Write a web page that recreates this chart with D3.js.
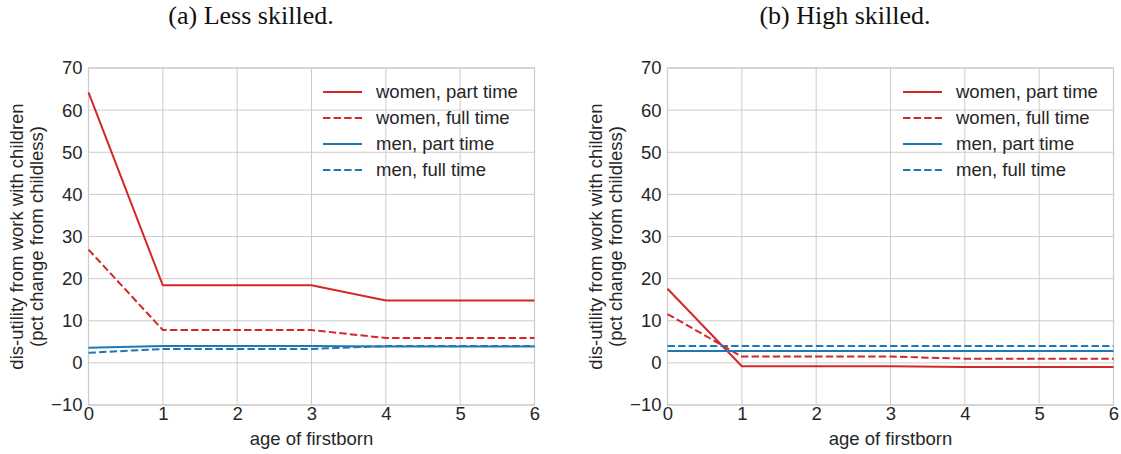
<!DOCTYPE html>
<html><head><meta charset="utf-8">
<script src="https://cdn.jsdelivr.net/npm/d3@7"></script>
<style>body{margin:0;background:#fff}svg{display:block}</style>
</head><body>
<script>
const ages = [0,1,2,3,4,5,6];
const yTicks = [-10,0,10,20,30,40,50,60,70];
const seriesNames = ["women, part time","women, full time","men, part time","men, full time"];
const seriesColors = ["#d62728","#d62728","#1f77b4","#1f77b4"];
const seriesDashed = [false,true,false,true];
const titles = ["(a) Less skilled.","(b) High skilled."];
// Less skilled
const lessWomenPT = [64.2,18.4,18.4,18.4,14.8,14.8,14.8];
const lessWomenFT = [26.9,7.8,7.8,7.8,5.9,5.9,5.9];
const lessMenPT   = [3.6,4.0,4.0,4.0,3.9,3.9,3.9];
const lessMenFT   = [2.4,3.3,3.3,3.3,4.0,4.0,4.0];
// High skilled
const highWomenPT = [17.6,-0.8,-0.8,-0.8,-1.0,-1.0,-1.0];
const highWomenFT = [11.6,1.5,1.5,1.5,1.0,1.0,1.0];
const highMenPT   = [2.8,2.8,2.8,2.8,2.8,2.8,2.8];
const highMenFT   = [4.0,4.0,4.0,4.0,4.0,4.0,4.0];

const panels = [
  {title: titles[0], left: 88.5, titleX: 251, series:[lessWomenPT,lessWomenFT,lessMenPT,lessMenFT], legendX: 323},
  {title: titles[1], left: 667.5, titleX: 845, series:[highWomenPT,highWomenFT,highMenPT,highMenFT], legendX: 903}
];
const W = 1121, H = 454;
const plotTop = 68, plotBottom = 405, pw = 446;
const txt = "#262626", grid = "#cccccc";
const sans = "'Liberation Sans', Arial, sans-serif";
const fs = 18.5;

const svg = d3.select("body").append("svg").attr("width", W).attr("height", H);

panels.forEach(p => {
  const x = d3.scaleLinear().domain([0,6]).range([p.left, p.left+pw]);
  const y = d3.scaleLinear().domain([-10,70]).range([plotBottom, plotTop]);
  const g = svg.append("g");

  g.append("text").attr("x", p.titleX).attr("y", 24)
    .attr("text-anchor","middle").attr("font-family","'Liberation Serif', 'DejaVu Serif', serif")
    .attr("font-size", 26).attr("fill","#111").text(p.title);

  g.append("g").selectAll("line").data(ages).join("line")
    .attr("x1", d=>x(d)).attr("x2", d=>x(d)).attr("y1", plotTop).attr("y2", plotBottom)
    .attr("stroke", grid).attr("stroke-width", 1);
  g.append("g").selectAll("line").data(yTicks).join("line")
    .attr("y1", d=>y(d)).attr("y2", d=>y(d)).attr("x1", p.left).attr("x2", p.left+pw)
    .attr("stroke", grid).attr("stroke-width", 1);
  g.append("rect").attr("x", p.left).attr("y", plotTop).attr("width", pw).attr("height", plotBottom-plotTop)
    .attr("fill","none").attr("stroke", grid).attr("stroke-width", 1.25);

  const ax = g.append("g").attr("transform", `translate(0,${plotBottom})`)
    .call(d3.axisBottom(x).tickValues(ages).tickSize(0).tickPadding(2).tickFormat(d3.format("d")));
  ax.select(".domain").remove();
  ax.selectAll("text").attr("font-family", sans).attr("font-size", fs).attr("fill", txt);

  const ay = g.append("g").attr("transform", `translate(${p.left},0)`)
    .call(d3.axisLeft(y).tickValues(yTicks).tickSize(0).tickPadding(6).tickFormat(d => d < 0 ? "\u2212" + Math.abs(d) : d));
  ay.select(".domain").remove();
  ay.selectAll("text").attr("font-family", sans).attr("font-size", fs).attr("fill", txt);

  g.append("text").attr("x", p.left + pw/2).attr("y", 445).attr("text-anchor","middle")
    .attr("font-family", sans).attr("font-size", fs).attr("fill", txt).text("age of firstborn");

  const cy = (plotTop+plotBottom)/2;
  const yl = g.append("text").attr("transform", `translate(${p.left-66},${cy}) rotate(-90)`)
    .attr("text-anchor","middle").attr("font-family", sans).attr("font-size", fs).attr("fill", txt);
  yl.append("tspan").attr("x",0).attr("dy",0).text("dis-utility from work with children");
  yl.append("tspan").attr("x",0).attr("dy",20.5).text("(pct change from childless)");

  const line = d3.line().x((d,i)=>x(ages[i])).y(d=>y(d));
  p.series.forEach((s, k) => {
    g.append("path").datum(s).attr("d", line).attr("fill","none")
      .attr("stroke", seriesColors[k]).attr("stroke-width", 2)
      .attr("stroke-dasharray", seriesDashed[k] ? "7.4,3.2" : null);
  });

  const lg = g.append("g");
  seriesNames.forEach((n,k) => {
    const ly = 92 + k*26;
    lg.append("line").attr("x1", p.legendX).attr("x2", p.legendX+39).attr("y1", ly).attr("y2", ly)
      .attr("stroke", seriesColors[k]).attr("stroke-width", 2)
      .attr("stroke-dasharray", seriesDashed[k] ? "7.4,3.2" : null);
    lg.append("text").attr("x", p.legendX+53).attr("y", ly).attr("dy","0.35em")
      .attr("font-family", sans).attr("font-size", fs).attr("fill", txt).text(n);
  });
});
</script>
</body></html>
